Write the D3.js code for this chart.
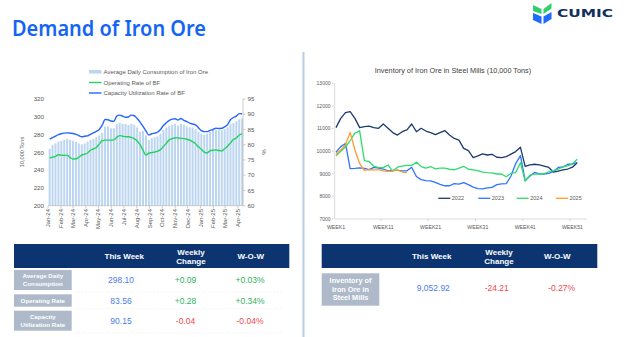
<!DOCTYPE html>
<html>
<head>
<meta charset="utf-8">
<script src="https://cdn.jsdelivr.net/npm/d3@7"></script>
<style>
body{margin:0;background:#fff;}
svg{display:block;font-family:"Liberation Sans",Arial,sans-serif;}
</style>
</head>
<body>
<script>
// ---- left chart data (weekly, Jan-24 .. Apr-25) ----
var consumption = [264,268,270,272,273,274,275,274,273,272,
	270,269,270,272,274,275,277,279,282,289,
	289,287,287,292,293,292,292,291,292,291,
	288,283,284,279,274,276,277,278,281,285,
	288,290,291,292,290,292,291,289,288,288,
	286,283,281,280,281,283,286,285,285,285,
	286,288,292,293,295,297,298.1];
var operatingRate = [75.7,75.9,76.2,76.7,76.6,76.5,76.5,75.8,75.3,75.4,
	75.9,76.6,76.9,77.3,78.2,78.6,79.1,80.2,81.3,81.5,
	81.5,81.5,81.6,82.4,83.0,82.8,82.6,82.6,82.4,82.0,
	81.2,80.0,78.2,76.6,77.2,77.4,77.6,77.9,78.4,79.4,
	80.5,81.6,82.0,82.3,82.2,82.1,82.0,81.8,81.5,81.0,
	80.3,79.3,78.5,77.6,77.3,78.0,78.2,78.3,78.1,78.0,
	78.7,79.5,80.6,81.7,82.2,83.2,83.56];
var capacityRate = [81.8,82.3,82.8,83.3,83.6,83.8,83.9,83.8,83.7,83.4,
	83.0,82.6,82.8,82.9,83.4,83.9,84.4,85.0,86.4,88.3,
	88.2,87.8,87.7,89.4,89.7,89.4,89.0,89.1,89.7,89.5,
	88.6,87.4,86.0,84.5,83.2,83.6,83.8,84.1,85.0,86.3,
	87.2,88.0,88.4,88.5,88.1,88.6,88.0,87.6,87.1,86.8,
	86.5,85.6,84.6,84.3,84.3,84.7,85.0,85.4,85.3,85.4,
	85.9,86.6,88.2,88.9,89.4,90.2,90.15];
var monthLabels = ["Jan-24","Feb-24","Mar-24","Apr-24","May-24","Jun-24","Jul-24","Aug-24",
	"Sep-24","Oct-24","Nov-24","Dec-24","Jan-25","Feb-25","Mar-25","Apr-25"];
var leftTicks = [200,220,240,260,280,300,320];
var rightTicks = [60,65,70,75,80,85,90,95];
var legendNames = ["Average Daily Consumption of Iron Ore","Operating Rate of BF","Capacity Utilization Rate of BF"];

// ---- right chart data (weekly inventory) ----
var inv2022 = [11040,11450,11700,11750,11450,11040,11080,11110,11040,11010,
	11200,11010,10820,10710,10860,10940,11200,10860,11010,10890,
	10820,10730,10820,10910,10710,10560,10490,10120,10020,9710,
	9790,9880,9830,9860,9730,9710,9760,9870,9980,10170,
	9330,9390,9420,9390,9340,9280,9070,9120,9170,9210,9290,9490];
var inv2023 = [9950,10200,10340,9230,9235,9265,9240,9180,9280,9250,
	9210,9130,9150,9150,9130,9130,9290,8880,8740,8700,
	8690,8620,8530,8470,8470,8560,8540,8610,8520,8410,
	8340,8330,8380,8400,8520,8550,8560,8900,9450,9800,
	8700,8900,9060,9000,8990,9020,9100,9280,9300,9420,9430,9500];
var inv2024 = [9800,9990,10180,10470,10800,10900,9580,9540,9330,9280,
	9270,9390,9110,9290,9340,9370,9370,9510,9320,9250,
	9320,9220,9250,9250,9200,9170,9250,9330,9200,9170,
	9140,9070,9050,9040,8990,8990,8870,9020,9050,9490,
	8680,8940,8980,8990,9000,9090,9140,9200,9310,9350,9440,9640];
var inv2025 = [9850,10050,10280,10830,10050,9450,9150,9180,9170,9170,
	9130,9110,9120,9170,9077.13,9052.92];
var invYears = ["2022","2023","2024","2025"];
var invTicks = [7000,8000,9000,10000,11000,12000,13000];
var weekTicks = [1,11,21,31,41,51];

// ---- tables ----
var demandLabels = [["Average Daily","Consumption"],["Operating Rate"],["Capacity","Utilization Rate"]];
var demandThisWeek = ["298.10","83.56","90.15"];
var demandChange = ["+0.09","+0.28","-0.04"];
var demandWow = ["+0.03%","+0.34%","-0.04%"];
var invLabel = ["Inventory of","Iron Ore in","Steel Mills"];
var invThisWeek = "9,052.92", invChange = "-24.21", invWow = "-0.27%";

var W = 624, H = 337;
var grey = "#595959", axisGrey = "#bfbfbf";
var navy = "#0b3470", cellGrey = "#aeb9ca";
var blueTxt = "#4a7de8", greenTxt = "#2eb35c", redTxt = "#f0494b";

var svg = d3.select("body").append("svg").attr("width", W).attr("height", H);

// title
svg.append("text").attr("x", 12).attr("y", 36).text("Demand of Iron Ore")
	.attr("font-family", "'Noto Sans',sans-serif").attr("font-weight", 600)
	.attr("font-size", 21).attr("fill", "#1565f5")
	.attr("textLength", 194).attr("lengthAdjust", "spacingAndGlyphs");

// logo
var logo = svg.append("g");
logo.append("polygon").attr("points", "533,5 541.5,9 541.5,14 533,11").attr("fill", "#2fd06a");
logo.append("polygon").attr("points", "533,13 541.5,16.5 541.5,24 533,20").attr("fill", "#1f6bff");
logo.append("polygon").attr("points", "543.5,9 551.5,3 551.5,8.5 543.5,14").attr("fill", "#2fd06a");
logo.append("polygon").attr("points", "543.5,16.5 551.5,12 551.5,19 543.5,24").attr("fill", "#1f6bff");
logo.append("text").attr("x", 557).attr("y", 16.8).text("CUMIC")
	.attr("font-family", "'DejaVu Sans',sans-serif").attr("font-weight", 700)
	.attr("font-size", 10.5).attr("fill", "#12305e")
	.attr("textLength", 56).attr("lengthAdjust", "spacingAndGlyphs");

// divider
svg.append("line").attr("x1", 303.5).attr("x2", 303.5).attr("y1", 52).attr("y2", H)
	.attr("stroke", "#b9cde0").attr("stroke-width", 2);

// ================= left chart =================
var start = new Date(2024, 0, 5);
var dates = consumption.map(function (d, i) { return d3.timeDay.offset(start, 7 * i); });
var x = d3.scaleTime().domain([new Date(2024, 0, 1), new Date(2025, 3, 13)]).range([48, 243]);
var yL = d3.scaleLinear().domain([200, 320]).range([205.7, 99]);
var yR = d3.scaleLinear().domain([60, 95]).range([205.7, 99]);

var left = svg.append("g");
left.selectAll(".bar").data(consumption).enter().append("rect")
	.attr("x", function (d, i) { return x(dates[i]) - 1; })
	.attr("width", 2)
	.attr("y", function (d) { return yL(d); })
	.attr("height", function (d) { return yL(200) - yL(d); })
	.attr("fill", "#bcd5f0");

var lineR = d3.line().x(function (d, i) { return x(dates[i]); }).y(function (d) { return yR(d); }).curve(d3.curveMonotoneX);
left.append("path").attr("d", lineR(operatingRate)).attr("fill", "none").attr("stroke", "#22d35e").attr("stroke-width", 1.4);
left.append("path").attr("d", lineR(capacityRate)).attr("fill", "none").attr("stroke", "#2566ff").attr("stroke-width", 1.4);

// axes
left.append("line").attr("x1", 48).attr("x2", 243).attr("y1", 205.7).attr("y2", 205.7).attr("stroke", axisGrey).attr("stroke-width", 0.8);
left.append("line").attr("x1", 243).attr("x2", 243).attr("y1", 99).attr("y2", 205.7).attr("stroke", axisGrey).attr("stroke-width", 0.8);
var monthDates = monthLabels.map(function (d, i) { return new Date(2024, i, 1); });
left.selectAll(".mt").data(monthDates).enter().append("line")
	.attr("x1", function (d) { return x(d); }).attr("x2", function (d) { return x(d); })
	.attr("y1", 205.7).attr("y2", 208.5).attr("stroke", axisGrey).attr("stroke-width", 0.8);
left.selectAll(".ml").data(monthDates).enter().append("text")
	.attr("transform", function (d) { return "translate(" + (x(d) + 2) + ",209) rotate(-90)"; })
	.attr("text-anchor", "end").attr("font-size", 6).attr("fill", grey)
	.text(function (d, i) { return monthLabels[i]; });
left.selectAll(".yl").data(leftTicks).enter().append("text")
	.attr("x", 44).attr("y", function (d) { return yL(d) + 2.2; })
	.attr("text-anchor", "end").attr("font-size", 6.2).attr("fill", grey).text(function (d) { return d; });
left.selectAll(".rt").data(rightTicks).enter().append("line")
	.attr("x1", 243).attr("x2", 245.5).attr("y1", function (d) { return yR(d); }).attr("y2", function (d) { return yR(d); })
	.attr("stroke", axisGrey).attr("stroke-width", 0.8);
left.selectAll(".yr").data(rightTicks).enter().append("text")
	.attr("x", 247.5).attr("y", function (d) { return yR(d) + 2.2; })
	.attr("font-size", 6.2).attr("fill", grey).text(function (d) { return d; });
left.append("text").attr("transform", "translate(24,152) rotate(-90)").attr("text-anchor", "middle")
	.attr("font-size", 5.6).attr("fill", grey).text("10,000 Tons");
left.append("text").attr("transform", "translate(262,152) rotate(90)").attr("text-anchor", "middle")
	.attr("font-size", 6).attr("fill", grey).text("%");

// legend
var lg = left.selectAll(".lg").data(legendNames).enter().append("g")
	.attr("transform", function (d, i) { return "translate(89," + (72 + i * 10.5) + ")"; });
lg.each(function (d, i) {
	var g = d3.select(this);
	if (i === 0) g.append("rect").attr("x", 0).attr("y", -2).attr("width", 12.5).attr("height", 3.5).attr("fill", "#bcd5f0");
	else g.append("line").attr("x1", 0).attr("x2", 12.5).attr("y1", 0).attr("y2", 0)
		.attr("stroke", i === 1 ? "#22d35e" : "#2566ff").attr("stroke-width", 1.4);
	g.append("text").attr("x", 14.5).attr("y", 2.1).attr("font-size", 6).attr("fill", grey).text(d);
});

// ================= right chart =================
var xW = d3.scaleLinear().domain([1, 52]).range([336, 577.2]);
var yI = d3.scaleLinear().domain([7000, 13000]).range([219, 83.3]);
var invColors = ["#1d3a6e", "#2f74ff", "#2fdc6c", "#ff9b2a"];
var invSeries = [inv2022, inv2023, inv2024, inv2025];
var right = svg.append("g");

right.append("text").attr("x", 453).attr("y", 73).attr("text-anchor", "middle")
	.attr("font-size", 7.3).attr("fill", "#404040").text("Inventory of Iron Ore in Steel Mills (10,000 Tons)");

right.append("line").attr("x1", 334.7).attr("x2", 334.7).attr("y1", 83.3).attr("y2", 219).attr("stroke", "#d0d0d0").attr("stroke-width", 0.8);
right.append("line").attr("x1", 334.7).attr("x2", 587).attr("y1", 219).attr("y2", 219).attr("stroke", "#d0d0d0").attr("stroke-width", 0.8);
right.selectAll(".it").data(invTicks).enter().append("line")
	.attr("x1", 331.8).attr("x2", 333.5).attr("y1", function (d) { return yI(d); }).attr("y2", function (d) { return yI(d); })
	.attr("stroke", "#b0b0b0").attr("stroke-width", 0.6);
right.selectAll(".il").data(invTicks).enter().append("text")
	.attr("x", 330.5).attr("y", function (d) { return yI(d) + 1.8; })
	.attr("text-anchor", "end").attr("font-size", 5).attr("fill", grey).text(function (d) { return d; });
right.selectAll(".wt").data(weekTicks.slice(1)).enter().append("line")
	.attr("x1", function (d) { return xW(d) - 2.4; }).attr("x2", function (d) { return xW(d) - 2.4; })
	.attr("y1", 219).attr("y2", 221).attr("stroke", "#c0c0c0").attr("stroke-width", 0.6);
right.selectAll(".wl").data(weekTicks).enter().append("text")
	.attr("x", function (d) { return xW(d); }).attr("y", 228.5)
	.attr("text-anchor", "middle").attr("font-size", 5.2).attr("fill", grey)
	.text(function (d) { return "WEEK" + d; });

var lineW = d3.line().x(function (d, i) { return xW(i + 1); }).y(function (d) { return yI(d); });
right.selectAll(".inv").data(invSeries).enter().append("path")
	.attr("d", function (d) { return lineW(d); })
	.attr("fill", "none").attr("stroke", function (d, i) { return invColors[i]; })
	.attr("stroke-width", 1.3).attr("stroke-linejoin", "round");

var legX = [438.3, 478.3, 516.7, 556];
var rl = right.selectAll(".rl").data(invYears).enter().append("g")
	.attr("transform", function (d, i) { return "translate(" + legX[i] + ",198.3)"; });
rl.append("line").attr("x1", 0).attr("x2", 12).attr("y1", 0).attr("y2", 0)
	.attr("stroke", function (d, i) { return invColors[i]; }).attr("stroke-width", 1.3);
rl.append("text").attr("x", 13.5).attr("y", 1.9).attr("font-size", 5.5).attr("fill", grey).text(function (d) { return d; });

// ================= tables =================
function header(g, x0, x1, cols) {
	g.append("rect").attr("x", x0).attr("y", 244).attr("width", x1 - x0).attr("height", 24).attr("fill", navy);
	cols.forEach(function (c) {
		var lines = c.t.split("\n");
		lines.forEach(function (t, k) {
			g.append("text").attr("x", c.x).attr("text-anchor", "middle")
				.attr("y", lines.length === 1 ? 258.8 : 255 + k * 9)
				.attr("font-size", 8).attr("font-weight", 700).attr("fill", "#fff").text(t);
		});
	});
}
var tl = svg.append("g");
header(tl, 14, 289.3, [{x: 124.3, t: "This Week"}, {x: 191, t: "Weekly\nChange"}, {x: 250.7, t: "W-O-W"}]);
var rowY = [[270, 290], [294.3, 306.7], [310.7, 330.7]];
demandLabels.forEach(function (lines, r) {
	var y0 = rowY[r][0], y1 = rowY[r][1], cy = (y0 + y1) / 2;
	tl.append("rect").attr("x", 14).attr("y", y0).attr("width", 57.7).attr("height", y1 - y0).attr("fill", cellGrey);
	lines.forEach(function (t, k) {
		tl.append("text").attr("x", 42.8).attr("y", cy + 2.2 + (k - (lines.length - 1) / 2) * 8.3)
			.attr("text-anchor", "middle").attr("font-size", 6.2).attr("font-weight", 700).attr("fill", "#fff").text(t);
	});
	var chCol = demandChange[r][0] === "-" ? redTxt : greenTxt;
	tl.append("text").attr("x", 121).attr("y", cy + 3).attr("text-anchor", "middle").attr("font-size", 8.5).attr("fill", blueTxt).text(demandThisWeek[r]);
	tl.append("text").attr("x", 185.5).attr("y", cy + 3).attr("text-anchor", "middle").attr("font-size", 8.5).attr("fill", chCol).text(demandChange[r]);
	tl.append("text").attr("x", 250).attr("y", cy + 3).attr("text-anchor", "middle").attr("font-size", 8.5).attr("fill", chCol).text(demandWow[r]);
	tl.append("line").attr("x1", 76).attr("x2", 283).attr("y1", y1 + 1.8).attr("y2", y1 + 1.8)
		.attr("stroke", "#e4e4e4").attr("stroke-width", 0.6).attr("stroke-dasharray", "1,2");
});

var tr = svg.append("g");
header(tr, 321.7, 597.3, [{x: 431.7, t: "This Week"}, {x: 499, t: "Weekly\nChange"}, {x: 557.3, t: "W-O-W"}]);
tr.append("rect").attr("x", 321.7).attr("y", 273.3).attr("width", 57.6).attr("height", 32.4).attr("fill", cellGrey);
invLabel.forEach(function (t, k) {
	tr.append("text").attr("x", 350.5).attr("y", 283.2 + k * 8.4).attr("text-anchor", "middle")
		.attr("font-size", 7.3).attr("font-weight", 700).attr("fill", "#fff").text(t);
});
tr.append("text").attr("x", 433.3).attr("y", 291.3).attr("text-anchor", "middle").attr("font-size", 8.5).attr("fill", blueTxt).text(invThisWeek);
tr.append("text").attr("x", 496.7).attr("y", 291.3).attr("text-anchor", "middle").attr("font-size", 8.5).attr("fill", redTxt).text(invChange);
tr.append("text").attr("x", 561.7).attr("y", 291.3).attr("text-anchor", "middle").attr("font-size", 8.5).attr("fill", redTxt).text(invWow);
</script>
</body>
</html>
